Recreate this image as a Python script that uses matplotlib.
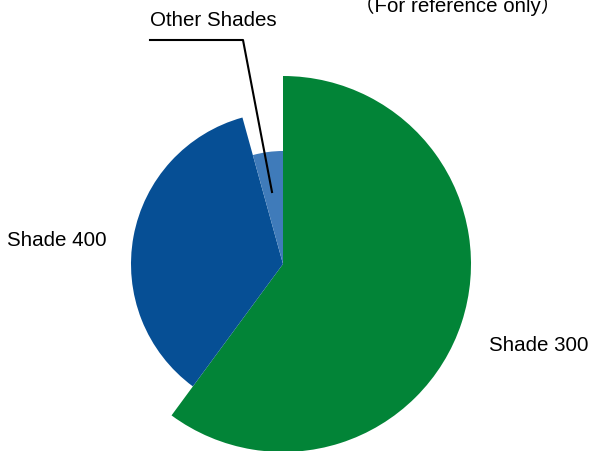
import matplotlib
matplotlib.use('Agg')
import matplotlib.pyplot as plt

plt.rcParams['font.family'] = ['Liberation Sans', 'Noto Sans CJK JP', 'DejaVu Sans']

# shares (percent)
labels = ['Shade 300', 'Shade 400', 'Other Shades']
shares = [60.1, 35.6, 4.3]
colors = ['#028437', '#064f95', '#3f7bba']
radii = [188, 152, 113]

fig = plt.figure(figsize=(5.89, 4.52), dpi=100)
ax = fig.add_axes([0, 0, 1, 1])

wedges, _ = ax.pie(shares, colors=colors, startangle=90, counterclock=False,
                   center=(283, 187), radius=radii[0], frame=True)
for w, r in zip(wedges, radii):
    w.set_radius(r)

ax.set_xlim(0, 589)
ax.set_ylim(0, 452)
ax.set_aspect('equal')
ax.axis('off')

fs = 14.8
# labels
ax.text(489, 106, labels[0], fontsize=fs, va='center', ha='left')
ax.text(7, 211, labels[1], fontsize=fs, va='center', ha='left')
ax.text(150, 431, labels[2], fontsize=fs, va='center', ha='left')
ax.plot([150, 243, 272], [411, 411, 259], color='black', lw=1.5)
ax.text(458, 440, '（For reference only）', fontsize=fs, va='baseline', ha='center')

plt.savefig('out.png', dpi=100)
